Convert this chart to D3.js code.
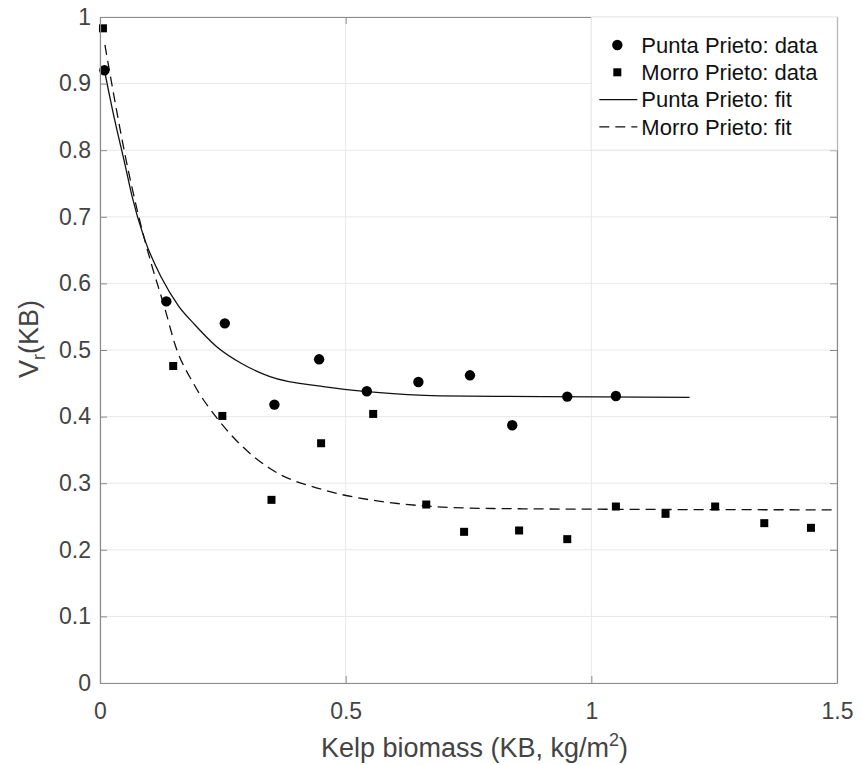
<!DOCTYPE html>
<html>
<head>
<meta charset="utf-8">
<script src="https://cdn.jsdelivr.net/npm/d3@7.9.0/dist/d3.min.js"></script>
<style>
  body { margin: 0; background: #fff; }
  svg { display: block; font-family: "Liberation Sans", Arial, sans-serif; }
</style>
</head>
<body>
<svg id="chart" width="862" height="765"></svg>
<script>
// values
const puntaX = [0.009, 0.135, 0.254, 0.355, 0.446, 0.543, 0.648, 0.753, 0.839, 0.951, 1.05];
const puntaY = [0.92, 0.573, 0.54, 0.418, 0.486, 0.438, 0.452, 0.462, 0.387, 0.43, 0.431];

const morroX = [0.006, 0.149, 0.249, 0.349, 0.45, 0.556, 0.664, 0.741, 0.853, 0.951, 1.05, 1.151, 1.252, 1.352, 1.447];
const morroY = [0.983, 0.476, 0.401, 0.275, 0.36, 0.404, 0.268, 0.227, 0.229, 0.216, 0.265, 0.254, 0.265, 0.24, 0.233];

// fitted curves
const puntaFitX = [0.009, 0.03, 0.051, 0.0645, 0.09, 0.1255, 0.16, 0.193, 0.2375, 0.29, 0.346, 0.4545, 0.55, 0.692, 0.9, 1.2];
const puntaFitY = [0.92, 0.845, 0.778, 0.733, 0.668, 0.608, 0.566, 0.538, 0.505, 0.479, 0.46, 0.445, 0.437, 0.431, 0.43, 0.429];

const morroFitX = [0.01, 0.0305, 0.051, 0.078, 0.105, 0.132, 0.153, 0.19, 0.241, 0.29, 0.346, 0.4545, 0.55, 0.658, 0.8, 1.0, 1.5];
const morroFitY = [0.958, 0.873, 0.793, 0.703, 0.628, 0.5625, 0.5075, 0.45, 0.395, 0.355, 0.322, 0.29, 0.275, 0.266, 0.262, 0.261, 0.26];

const xTicks = [0, 0.5, 1, 1.5];
const yTicks = d3.range(0, 11).map((i) => i / 10);

const legendItems = [
  { label: 'Punta Prieto: data', kind: 'circle' },
  { label: 'Morro Prieto: data', kind: 'square' },
  { label: 'Punta Prieto: fit', kind: 'solid' },
  { label: 'Morro Prieto: fit', kind: 'dashed' },
];

const margin = { top: 17, right: 25, bottom: 82, left: 100 };
const width = 862;
const height = 765;
const innerW = width - margin.left - margin.right;
const innerH = height - margin.top - margin.bottom;

const textColor = '#444';
const axisColor = '#8a8a8a';
const gridColor = '#e8e8e8';
const tickLen = 7;

const x = d3.scaleLinear().domain([0, 1.5]).range([0, innerW]);
const y = d3.scaleLinear().domain([0, 1]).range([innerH, 0]);

const svg = d3.select('#chart');
const g = svg.append('g').attr('transform', `translate(${margin.left},${margin.top})`);

// grid
g.append('g')
  .selectAll('line')
  .data(yTicks)
  .join('line')
  .attr('x1', 0)
  .attr('x2', innerW)
  .attr('y1', (d) => y(d))
  .attr('y2', (d) => y(d))
  .attr('stroke', gridColor);

g.append('g')
  .selectAll('line')
  .data(xTicks)
  .join('line')
  .attr('x1', (d) => x(d))
  .attr('x2', (d) => x(d))
  .attr('y1', 0)
  .attr('y2', innerH)
  .attr('stroke', gridColor);

// fit lines
const fitLine = d3
  .line()
  .x((d) => x(d[0]))
  .y((d) => y(d[1]))
  .curve(d3.curveMonotoneX);

g.append('path')
  .attr('d', fitLine(d3.zip(puntaFitX, puntaFitY)))
  .attr('fill', 'none')
  .attr('stroke', '#111')
  .attr('stroke-width', 1.3);

g.append('path')
  .attr('d', fitLine(d3.zip(morroFitX, morroFitY)))
  .attr('fill', 'none')
  .attr('stroke', '#111')
  .attr('stroke-width', 1.3)
  .attr('stroke-dasharray', '10,6');

// data markers
g.append('g')
  .selectAll('circle')
  .data(d3.zip(puntaX, puntaY))
  .join('circle')
  .attr('cx', (d) => x(d[0]))
  .attr('cy', (d) => y(d[1]))
  .attr('r', 5.2)
  .attr('fill', '#000');

const sq = 8;
g.append('g')
  .selectAll('rect')
  .data(d3.zip(morroX, morroY))
  .join('rect')
  .attr('x', (d) => x(d[0]) - sq / 2)
  .attr('y', (d) => y(d[1]) - sq / 2)
  .attr('width', sq)
  .attr('height', sq)
  .attr('fill', '#000');

// axes (box with inward ticks)
const axisStyle = (sel) => {
  sel.select('.domain').attr('stroke', axisColor);
  sel.selectAll('.tick line').attr('stroke', axisColor);
  sel.selectAll('.tick text')
    .attr('fill', textColor)
    .style('font-size', '23px');
};

g.append('g')
  .attr('transform', `translate(0,${innerH})`)
  .call(d3.axisBottom(x).tickValues(xTicks).tickFormat(d3.format('~g')).tickSizeInner(-tickLen).tickSizeOuter(0).tickPadding(20))
  .call(axisStyle);

g.append('g')
  .call(d3.axisTop(x).tickValues(xTicks).tickFormat('').tickSizeInner(-tickLen).tickSizeOuter(0))
  .call(axisStyle);

g.append('g')
  .call(d3.axisLeft(y).tickValues(yTicks).tickFormat(d3.format('~g')).tickSizeInner(-tickLen).tickSizeOuter(0).tickPadding(9))
  .call(axisStyle);

g.append('g')
  .attr('transform', `translate(${innerW},0)`)
  .call(d3.axisRight(y).tickValues(yTicks).tickFormat('').tickSizeInner(-tickLen).tickSizeOuter(0))
  .call(axisStyle);

svg.selectAll('.domain').attr('stroke-width', 1.2);

// axis labels
const xLabel = svg.append('text')
  .attr('x', margin.left + innerW / 2 + 6)
  .attr('y', 757)
  .attr('text-anchor', 'middle')
  .attr('fill', textColor)
  .style('font-size', '27px');
xLabel.append('tspan').text('Kelp biomass (KB, kg/m');
xLabel.append('tspan').attr('dy', -11).style('font-size', '18px').text('2');
xLabel.append('tspan').attr('dy', 11).text(')');

const yLabel = svg.append('text')
  .attr('transform', 'translate(38,339) rotate(-90)')
  .attr('text-anchor', 'middle')
  .attr('fill', textColor)
  .style('font-size', '27px');
yLabel.append('tspan').text('V');
yLabel.append('tspan').attr('dy', 7).style('font-size', '18px').text('r');
yLabel.append('tspan').attr('dy', -7).text('(KB)');

// legend
const legend = svg.append('g').attr('transform', `translate(${margin.left + x(1)},${margin.top})`);
legend.append('rect')
  .attr('x', 0)
  .attr('y', 0)
  .attr('width', innerW - x(1))
  .attr('height', 133)
  .attr('fill', '#fff')
  .attr('stroke', gridColor);

legendItems.forEach((item, i) => {
  const cy = 28 + i * 27.3;
  const row = legend.append('g').attr('transform', `translate(0,${cy})`);
  if (item.kind === 'circle') {
    row.append('circle').attr('cx', 26).attr('cy', 0).attr('r', 5.2).attr('fill', '#000');
  } else if (item.kind === 'square') {
    row.append('rect').attr('x', 22).attr('y', -4).attr('width', sq).attr('height', sq).attr('fill', '#000');
  } else {
    row.append('line')
      .attr('x1', 8)
      .attr('x2', 46)
      .attr('y1', 0)
      .attr('y2', 0)
      .attr('stroke', '#111')
      .attr('stroke-width', 1.3)
      .attr('stroke-dasharray', item.kind === 'dashed' ? '10,6' : null);
  }
  row.append('text')
    .attr('x', 50)
    .attr('y', 0)
    .attr('dy', '0.35em')
    .attr('fill', '#111')
    .style('font-size', '22px')
    .text(item.label);
});
</script>
</body>
</html>
